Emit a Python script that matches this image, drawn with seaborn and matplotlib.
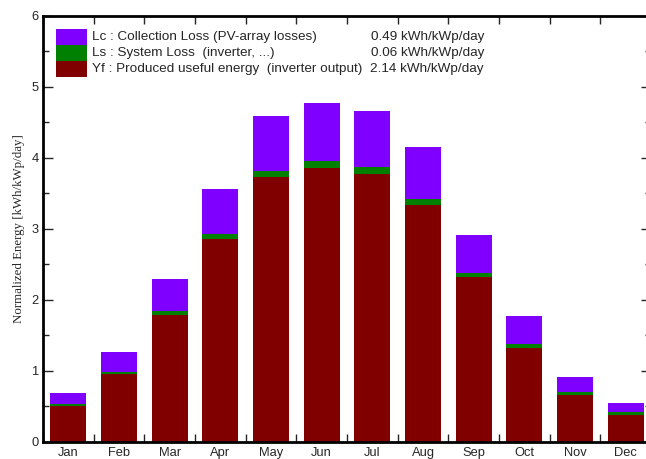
import numpy as np
import pandas as pd
import matplotlib
matplotlib.use('Agg')
import matplotlib.pyplot as plt
from matplotlib.patches import Rectangle
from matplotlib.ticker import MultipleLocator, FixedLocator, NullFormatter
import seaborn as sns

# monthly normalized energies [kWh/kWp/day]
months = ['Jan', 'Feb', 'Mar', 'Apr', 'May', 'Jun', 'Jul', 'Aug', 'Sep', 'Oct', 'Nov', 'Dec']
yf = [0.50, 0.95, 1.79, 2.86, 3.73, 3.86, 3.78, 3.34, 2.32, 1.32, 0.66, 0.38]  # produced useful energy
ls = [0.03, 0.04, 0.05, 0.07, 0.09, 0.09, 0.09, 0.08, 0.06, 0.06, 0.04, 0.04]  # system loss
lc = [0.16, 0.28, 0.45, 0.63, 0.77, 0.82, 0.79, 0.74, 0.54, 0.39, 0.22, 0.13]  # collection loss

legend_labels = ['Lc : Collection Loss (PV-array losses)',
                 'Ls : System Loss  (inverter, ...)',
                 'Yf : Produced useful energy  (inverter output)']
legend_values = ['0.49 kWh/kWp/day', '0.06 kWh/kWp/day', '2.14 kWh/kWp/day']

c_lc, c_ls, c_yf = '#8000ff', '#008000', '#800000'

df = pd.DataFrame({'month': months, 'yf': yf, 'ls': ls, 'lc': lc})
df['yf_ls'] = df['yf'] + df['ls']
df['total'] = df['yf_ls'] + df['lc']

sns.set_style('ticks')
plt.rcParams['font.family'] = ['Liberation Sans', 'DejaVu Sans']

W, H = 646, 459
fig = plt.figure(figsize=(W / 100, H / 100), dpi=100)
# axes run a little past the right edge, as in the cropped original
ax = fig.add_axes([43 / W, 1 - 441.8 / H, 608 / W, 425.8 / H])

# stacked bars: draw the full height first, then cover with lower parts
for col, colr in [('total', c_lc), ('yf_ls', c_ls), ('yf', c_yf)]:
    sns.barplot(data=df, x='month', y=col, color=colr, width=0.71,
                saturation=1, edgecolor='none', linewidth=0, ax=ax)

ax.set_xlim(-0.5, 11.5)
ax.set_ylim(0, 6)

# x ticks: marks at month boundaries, labels under bar centres
ax.xaxis.set_major_locator(FixedLocator(np.arange(-0.5, 12, 1)))
ax.xaxis.set_major_formatter(NullFormatter())
ax.set_xticks(np.arange(12), labels=months, minor=True)
ax.tick_params(axis='x', which='major', direction='in', length=6, width=1,
               top=True, bottom=True)
ax.tick_params(axis='x', which='minor', length=0, labelsize=9.3, pad=4)

ax.yaxis.set_major_locator(MultipleLocator(1))
ax.yaxis.set_minor_locator(MultipleLocator(0.5))
ax.tick_params(axis='y', which='major', direction='in', length=7, width=1,
               left=True, right=True, labelsize=9.3, pad=3)
ax.tick_params(axis='y', which='minor', direction='in', length=4, width=1,
               left=True, right=True)

ax.set_xlabel('')
ax.set_ylabel('Normalized Energy [kWh/kWp/day]', family=['Liberation Serif', 'DejaVu Serif'],
              fontsize=9.3, labelpad=5)

for sp in ax.spines.values():
    sp.set_visible(True)
    sp.set_linewidth(2)
    sp.set_color('black')

# legend block drawn by hand to get the value column
box_x, box_w, box_h = 56, 31, 15.5
row_y = [37, 53, 69]
for lab, val, colr, yc in zip(legend_labels, legend_values, [c_lc, c_ls, c_yf], row_y):
    fig.patches.append(Rectangle((box_x / W, 1 - (yc + box_h / 2) / H), box_w / W, box_h / H,
                                 transform=fig.transFigure, facecolor=colr, edgecolor='none'))
    fig.text(92 / W, 1 - yc / H, lab, fontsize=9.7, va='center', ha='left')
    fig.text(484 / W, 1 - yc / H, val, fontsize=9.7, va='center', ha='right')

fig.savefig('out.png', dpi=100)
